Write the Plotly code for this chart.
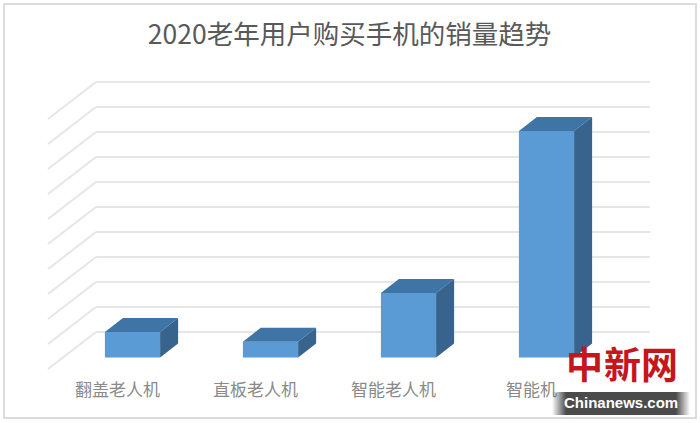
import plotly.graph_objects as go

categories = ['翻盖老人机', '直板老人机', '智能老人机', '智能机']
sales = [10.2, 6.3, 25.8, 90.6]
grid_levels = [0, 10, 20, 30, 40, 50, 60, 70, 80, 90, 100]

title_text = '2020老年用户购买手机的销量趋势'
logo_chars = ['中', '新', '网']
logo_url = 'Chinanews.com'

W, H = 700, 423
PLOT_BOTTOM = 378

# one category step is 138px, one value unit is 2.5px
STEP = 138
UNIT = 2.5
BAR_WIDTH = 0.4
x0_px = 132.5
y0_px = 357.5
x_range = [(0 - x0_px) / STEP, (W - x0_px) / STEP]
y_range = [(y0_px - PLOT_BOTTOM) / UNIT, y0_px / UNIT]

# fake 3d: how far the back edge of a bar is shifted
depth_x = 18 / STEP
depth_y = 14 / UNIT

# walls of the fake 3d box, measured from the plane of the bars
wall_back = 10.2
wall_front = -4.6
wall_left_front = (48 - x0_px) / STEP
wall_left_back = (96 - x0_px) / STEP
wall_right = (650 - x0_px) / STEP

FRONT = '#5b9bd5'
TOP = '#3f74a6'
SIDE = '#37638c'
GRID = '#e6e6e6'


def px_x(px):
    return px / W


def px_y(px):
    return (PLOT_BOTTOM - px) / PLOT_BOTTOM


fig = go.Figure()

fig.add_trace(go.Bar(x=list(range(len(categories))), y=sales, width=BAR_WIDTH,
                     marker=dict(color=FRONT, line=dict(width=0)), hoverinfo='skip'))

# top and side faces of each bar
for i, v in enumerate(sales):
    left = i - BAR_WIDTH / 2
    right = i + BAR_WIDTH / 2
    fig.add_trace(go.Scatter(
        x=[left, right, right + depth_x, left + depth_x, left],
        y=[v, v, v + depth_y, v + depth_y, v],
        fill='toself', fillcolor=TOP, mode='lines', line=dict(width=0), hoverinfo='skip'))
    fig.add_trace(go.Scatter(
        x=[right, right + depth_x, right + depth_x, right, right],
        y=[0, depth_y, v + depth_y, v, 0],
        fill='toself', fillcolor=SIDE, mode='lines', line=dict(width=0), hoverinfo='skip'))

shapes = []
for level in grid_levels:
    back = level + wall_back
    front = level + wall_front
    shapes.append(dict(type='line', layer='below', x0=wall_left_front, y0=front,
                       x1=wall_left_back, y1=back, line=dict(color=GRID, width=2)))
    shapes.append(dict(type='line', layer='below', x0=wall_left_back, y0=back,
                       x1=wall_right, y1=back, line=dict(color=GRID, width=2)))

# picture frame
shapes.append(dict(type='rect', xref='paper', yref='paper', layer='below',
                   x0=px_x(4), x1=px_x(696), y0=px_y(418), y1=px_y(4),
                   line=dict(color='#dcdcdc', width=2)))

# watermark strip, edges fade out
strip_left, strip_right, fade = 552, 690, 14
shapes.append(dict(type='rect', xref='paper', yref='paper', layer='above',
                   x0=px_x(strip_left + fade), x1=px_x(strip_right - fade), y0=px_y(415), y1=px_y(392),
                   fillcolor='rgba(60,60,60,0.92)', line=dict(width=0)))
for step in range(fade):
    alpha = 0.92 * (step + 0.5) / fade
    for x_start in (strip_left + step, strip_right - step - 1):
        shapes.append(dict(type='rect', xref='paper', yref='paper', layer='above',
                           x0=px_x(x_start), x1=px_x(x_start + 1), y0=px_y(415), y1=px_y(392),
                           fillcolor=f'rgba(60,60,60,{alpha:.3f})', line=dict(width=0)))

annotations = []
for ch, cx in zip(logo_chars, [584, 622, 659]):
    annotations.append(dict(text=f'<b>{ch}</b>', xref='paper', yref='paper', x=px_x(cx), y=px_y(363),
                            showarrow=False, xanchor='center', yanchor='middle',
                            font=dict(family='Noto Sans CJK SC', size=37, color='#c5161d')))
annotations.append(dict(text=f'<b>{logo_url}</b>', xref='paper', yref='paper', x=px_x(621), y=px_y(403),
                        showarrow=False, xanchor='center', yanchor='middle',
                        font=dict(family='Liberation Sans', size=15, color='white')))

fig.update_layout(
    width=W, height=H,
    margin=dict(l=0, r=0, t=0, b=H - PLOT_BOTTOM),
    paper_bgcolor='white', plot_bgcolor='white',
    showlegend=False,
    title=dict(text=title_text, x=349.5 / W, xanchor='center', y=1 - 35 / H, yanchor='middle',
               font=dict(family='Noto Sans CJK SC', size=26.5, color='#595959')),
    xaxis=dict(range=x_range, showgrid=False, zeroline=False, showline=False, ticks='',
               tickmode='array', tickvals=[i - 15 / STEP for i in range(len(categories))],
               ticktext=categories, tickfont=dict(family='Noto Sans CJK SC', size=17, color='#8a8a8a')),
    yaxis=dict(range=y_range, showgrid=False, zeroline=False, showline=False, showticklabels=False),
    shapes=shapes,
    annotations=annotations,
)

# default page has an 8px body margin, which would push the chart out of the window
fig.write_html('out.html', config={'displayModeBar': False},
               post_script="document.body.style.margin='0';")
